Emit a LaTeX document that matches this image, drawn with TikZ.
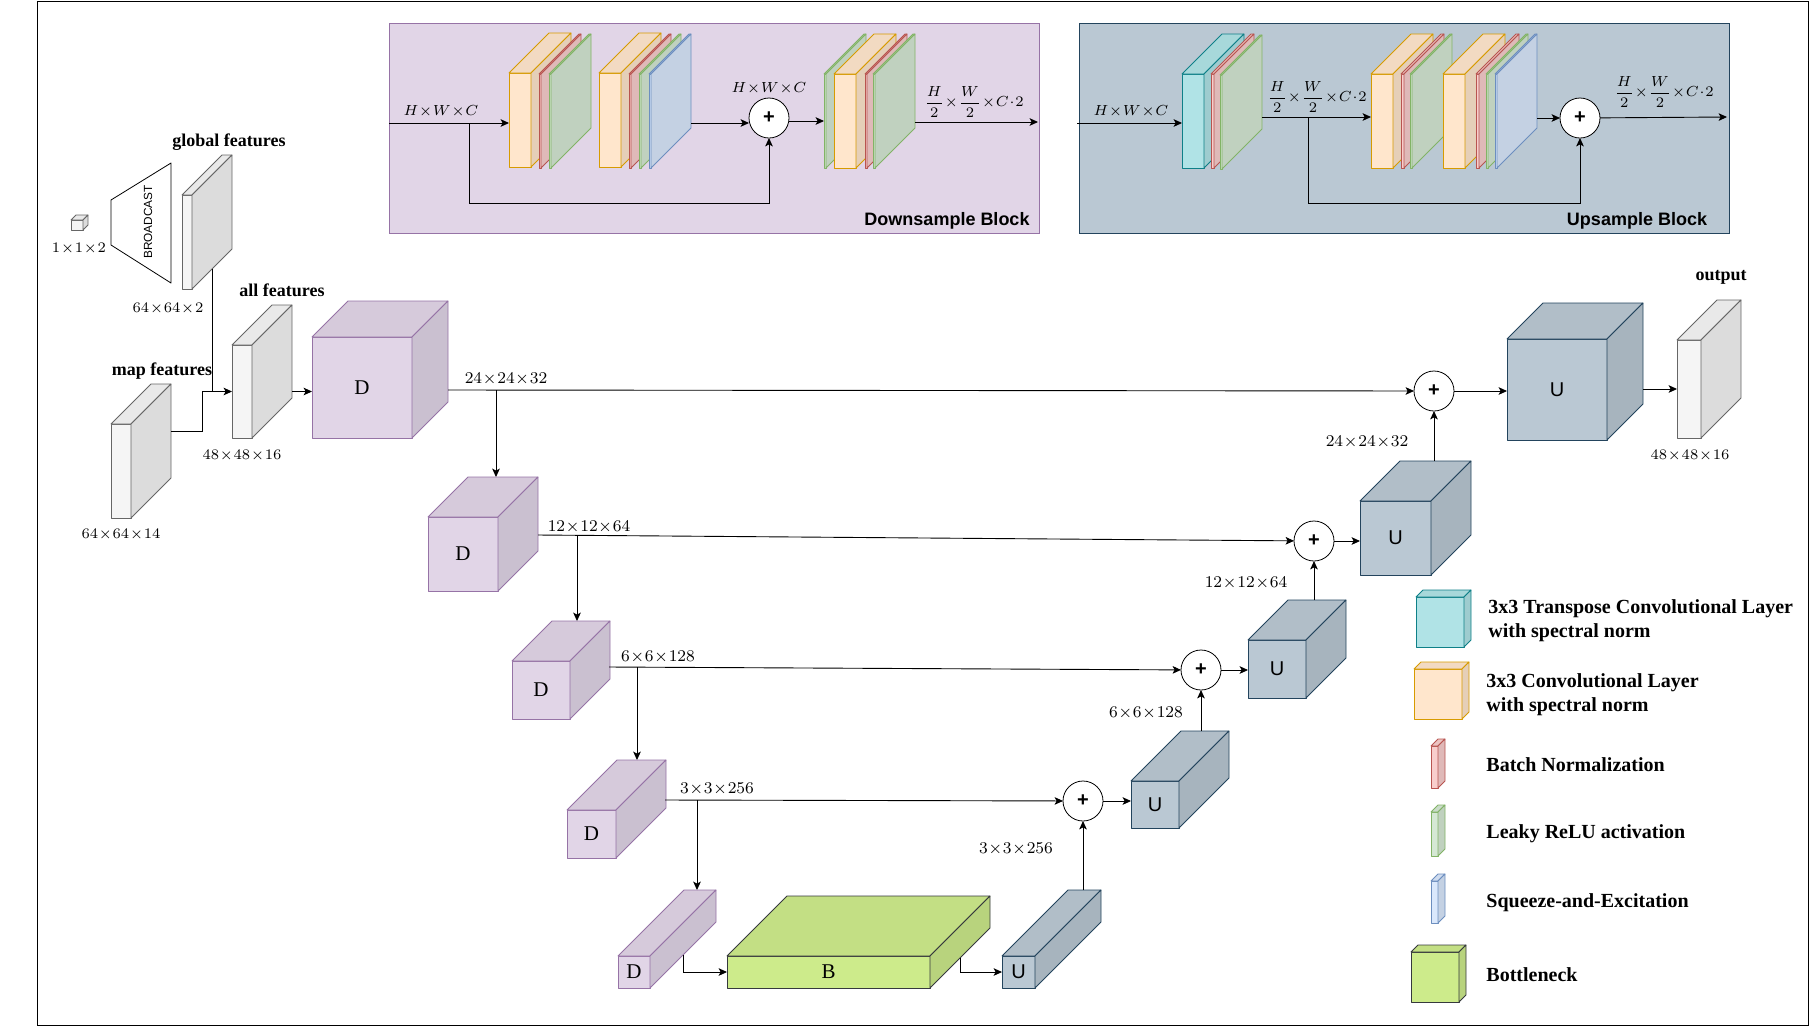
\documentclass[tikz,border=0pt]{standalone}
\usepackage{fix-cm}
\usepackage{amsmath,amssymb}
\usepackage{fontspec}
\setmainfont{Liberation Serif}
\setsansfont{Liberation Sans}
\usetikzlibrary{positioning,arrows.meta,calc}

\definecolor{ingray}{HTML}{F5F5F5}   \definecolor{ingrayline}{HTML}{666666}
\definecolor{dlilac}{HTML}{E1D5E7}   \definecolor{dlilacline}{HTML}{9673A6}
\definecolor{uslate}{HTML}{BAC8D3}   \definecolor{uslateline}{HTML}{23445D}
\definecolor{bneck}{HTML}{CDEB8B}    \definecolor{bneckline}{HTML}{36393D}
\definecolor{tconv}{HTML}{B0E3E6}    \definecolor{tconvline}{HTML}{0E8088}
\definecolor{conv}{HTML}{FFE6CC}     \definecolor{convline}{HTML}{D79B00}
\definecolor{bnorm}{HTML}{F8CECC}    \definecolor{bnormline}{HTML}{B85450}
\definecolor{lrelu}{HTML}{D5E8D4}    \definecolor{lreluline}{HTML}{82B366}
\definecolor{sqex}{HTML}{DAE8FC}     \definecolor{sqexline}{HTML}{6C8EBF}

\newcommand{\serifmark}[1]{{\fontsize{10.5}{12}\selectfont #1}}
\newcommand{\sansmark}[1]{{\sffamily\fontsize{10}{12}\selectfont #1}}
\newcommand{\dimsfont}{\fontsize{7.3}{9}\selectfont\medmuskip=0.8mu\relax}
\newcommand{\skipfont}{\fontsize{8.2}{10}\selectfont\medmuskip=0.8mu\relax}

% name, left, top, width, height, depth, colour, text
\newcommand{\cubelayer}[8]{%
  \node[cubefront=#7,minimum width=#4*0.5pt,minimum height=#5*0.5pt] (#1) at (#2,#3) {#8};
  \draw[draw=#7line,fill=#7!95!black,line join=round] (#1.north west) -- ++(#6,-#6) -- ++(#4,0) -- (#1.north east) -- cycle;
  \draw[draw=#7line,fill=#7!90!black,line join=round] (#1.north east) -- ++(#6,-#6) -- ++(0,#5) -- (#1.south east) -- cycle;
  \coordinate (#1-r) at ($(#1.east)+(#6,-#6)$);
  \coordinate (#1-t) at ($(#1.north)+(#6,-#6)$);
  \coordinate (#1-s) at ($(#1.south east)+(#6/2,-#6/2)$);
}

\begin{document}
\begin{tikzpicture}[
  x=0.5pt,y=-0.5pt,line width=0.4pt,
  cubefront/.style={rectangle,draw=#1line,fill=#1,anchor=north west,inner sep=0pt,outer sep=0pt,line join=round},
  arr/.style={-{Stealth[length=4.2pt,width=3.8pt,inset=1pt]},line width=0.45pt},
  conn/.style={line width=0.45pt},
  plusnode/.style={circle,draw,fill=white,minimum size=20pt,inner sep=0pt,outer sep=0pt,font=\sffamily\bfseries\fontsize{10}{12}\selectfont},
  dims/.style={font=\dimsfont,inner sep=0pt,yshift=-1pt},
  skipdims/.style={font=\skipfont,inner sep=0pt,yshift=-1pt},
  heading/.style={font=\bfseries\fontsize{9}{11}\selectfont,inner sep=0pt,yshift=-1pt},
  legendtext/.style={font=\bfseries\fontsize{10}{12}\selectfont,anchor=west,align=left,inner sep=0pt},
  blockbox/.style={rectangle,draw=#1line,fill=#1,anchor=north west,inner sep=0pt,outer sep=0pt},
  blocktitle/.style={font=\sffamily\bfseries\fontsize{9}{11}\selectfont,inner sep=0pt,yshift=-1pt},
]
\useasboundingbox (0,0) rectangle (1809,1035);
\node[draw,anchor=north west,minimum width=885.5pt,minimum height=512pt,inner sep=0pt,outer sep=0pt] (frame) at (37,1) {};

% Downsample block
\node[blockbox=dlilac,minimum width=325pt,minimum height=105pt] (dsblock) at (389,23) {};
\cubelayer{dsAo}{509}{73}{22}{94}{40}{conv}{}
\cubelayer{dsAr}{539}{74}{2}{94}{40}{bnorm}{}
\cubelayer{dsAg}{549}{74}{2}{94}{40}{lrelu}{}
\cubelayer{dsBo}{599}{73}{22}{94}{40}{conv}{}
\cubelayer{dsBr}{629}{74}{2}{94}{40}{bnorm}{}
\cubelayer{dsBg}{639}{74}{2}{94}{40}{lrelu}{}
\cubelayer{dsBb}{649}{74}{2}{94}{40}{sqex}{}
\cubelayer{dsCg}{824}{74}{2}{94}{40}{lrelu}{}
\cubelayer{dsCo}{834}{74}{22}{94}{40}{conv}{}
\cubelayer{dsCr}{865}{74}{2}{94}{40}{bnorm}{}
\cubelayer{dsCh}{873}{74}{2}{94}{40}{lrelu}{}
\node[plusnode] (dsplus) at (769,118) {+};
\coordinate (dsin) at (389,123);
\coordinate (dsj) at (469,123);
\coordinate (dsk) at (769,203);
\coordinate (dsout) at (1038,122);
\draw[arr] (dsin) -- (dsAo.west |- dsin);
\draw[arr] (dsj) |- (dsk) -- (dsplus);
\draw[arr] (dsBb-r |- dsin) -- (dsplus.west |- dsin);
\draw[arr] (dsCg.west -| dsplus.east) -- (dsCg.west);
\draw[arr] (dsCh-r |- dsout) -- (dsout);
\node[dims] (dsdimA) at (441,109) {$H\times W\times C$};
\node[dims] (dsdimB) at (769,86) {$H\times W\times C$};
\node[dims] (dsdimC) at (974,100) {$\dfrac{H}{2}\times\dfrac{W}{2}\times C\cdot 2$};
\node[blocktitle] (dstitle) at (947,219) {Downsample Block};

% Upsample block
\node[blockbox=uslate,minimum width=325pt,minimum height=105pt] (usblock) at (1079,23) {};
\cubelayer{usAt}{1182}{74}{22}{94}{40}{tconv}{}
\cubelayer{usAr}{1211}{74}{3}{94}{40}{bnorm}{}
\cubelayer{usAg}{1220}{75}{2}{94}{40}{lrelu}{}
\cubelayer{usBo}{1371}{74}{22}{94}{40}{conv}{}
\cubelayer{usBr}{1401}{74}{3}{94}{40}{bnorm}{}
\cubelayer{usBg}{1410}{74}{2}{94}{40}{lrelu}{}
\cubelayer{usCo}{1443}{74}{22}{94}{40}{conv}{}
\cubelayer{usCr}{1476}{74}{3}{94}{40}{bnorm}{}
\cubelayer{usCg}{1486}{74}{2}{94}{40}{lrelu}{}
\cubelayer{usCb}{1495}{74}{2}{94}{40}{sqex}{}
\node[plusnode] (usplus) at (1580,118) {+};
\coordinate (usin) at (1077,123);
\coordinate (usj) at (1308,117);
\coordinate (usk) at (1580,203);
\coordinate (usout) at (1727,117);
\draw[arr] (usin) -- (usAt.west |- usin);
\draw[arr] (usAg-r |- usj) -- (usBo.west |- usj);
\draw[arr] (usj) |- (usk) -- (usplus);
\draw[arr] (usCb-r |- usplus) -- (usplus);
\draw[arr] (usplus) -- (usout);
\node[dims] (usdimA) at (1131,109) {$H\times W\times C$};
\node[dims] (usdimB) at (1317,95) {$\dfrac{H}{2}\times\dfrac{W}{2}\times C\cdot 2$};
\node[dims] (usdimC) at (1664,90) {$\dfrac{H}{2}\times\dfrac{W}{2}\times C\cdot 2$};
\node[blocktitle] (ustitle) at (1637,219) {Upsample Block};

% Inputs
\cubelayer{small}{71}{220}{12}{10}{5}{ingray}{}
\cubelayer{globalf}{182}{195}{10}{94}{40}{ingray}{}
\cubelayer{mapf}{111}{424}{20}{94}{40}{ingray}{}
\cubelayer{allf}{232}{345}{20}{93}{40}{ingray}{}
\draw[line join=round] (111,200) -- (171,163) -- (171,283) -- (111,245) -- cycle;
\node[rotate=90,font=\sffamily\fontsize{5.9}{7}\selectfont,inner sep=0pt] (bcast) at (148,222) {BROADCAST};
\node[dims] (smalldim) at (79,247) {$1\times 1\times 2$};
\node[dims] (globaldim) at (168,307) {$64\times 64\times 2$};
\node[dims] (mapdim) at (121,533) {$64\times 64\times 14$};
\node[dims] (alldim) at (242,454) {$48\times 48\times 16$};
\node[heading] (globaltxt) at (229,140) {global features};
\node[heading] (maptxt) at (162,369) {map features};
\node[heading] (alltxt) at (282,288) {all features};

% Encoder
\cubelayer{D1}{312}{337}{100}{101}{36}{dlilac}{\serifmark{D}}
\cubelayer{D2}{428}{517}{70}{74}{40}{dlilac}{\serifmark{D}}
\cubelayer{D3}{512}{661}{58}{58}{40}{dlilac}{\serifmark{D}}
\cubelayer{D4}{567}{810}{49}{48}{50}{dlilac}{\serifmark{D}}
\cubelayer{D5}{618}{956}{32}{32}{66}{dlilac}{\serifmark{D}}

% Bottleneck
\cubelayer{B}{727}{956}{203}{32}{60}{bneck}{\serifmark{B}}

% Decoder
\cubelayer{U5}{1002}{956}{33}{32}{66}{uslate}{\sansmark{U}}
\cubelayer{U4}{1131}{781}{48}{47}{50}{uslate}{\sansmark{U}}
\cubelayer{U3}{1248}{640}{58}{58}{40}{uslate}{\sansmark{U}}
\cubelayer{U2}{1360}{501}{71}{74}{40}{uslate}{\sansmark{U}}
\cubelayer{U1}{1507}{339}{100}{101}{36}{uslate}{\sansmark{U}}
\cubelayer{outf}{1677}{340}{24}{98}{40}{ingray}{}

% Skip sums
\node[plusnode] (plus1) at (1434,391) {+};
\node[plusnode] (plus2) at (1314,541) {+};
\node[plusnode] (plus3) at (1201,670) {+};
\node[plusnode] (plus4) at (1083,801) {+};

% Arrows on the left
\coordinate (mapj) at (202,391.5);
\draw[conn] (globalf-s) -- (globalf-s |- allf.west);
\draw[arr] (mapf-r) -| (mapj) -- (allf.west);
\draw[arr] (allf-r |- allf.west) -- (D1.west |- allf.west);

% Skip connections
\coordinate (skip1) at (448,390);
\coordinate (skip2) at (538,535);
\coordinate (skip3) at (609,667);
\coordinate (skip4) at (665,800);
\draw[arr] (skip1) -- (plus1);
\draw[arr] (skip2) -- (plus2);
\draw[arr] (skip3) -- (plus3);
\draw[arr] (skip4) -- (plus4);

% Down path
\coordinate (down1) at (496,390);
\coordinate (down2) at (577,535);
\coordinate (down3) at (637,667);
\coordinate (down4) at (697,800);
\draw[arr] (down1) -- (down1 |- D2-t);
\draw[arr] (down2) -- (down2 |- D3-t);
\draw[arr] (down3) -- (down3 |- D4-t);
\draw[arr] (down4) -- (down4 |- D5-t);
\draw[arr] (D5-s) |- (B.west);
\draw[arr] (B-s) |- (U5.west);

% Up path
\draw[arr] (plus4 |- U5-t) -- (plus4);
\draw[arr] (plus3 |- U4-t) -- (plus3);
\draw[arr] (plus2 |- U3-t) -- (plus2);
\draw[arr] (plus1 |- U2-t) -- (plus1);
\draw[arr] (plus4) -- (U4.west |- plus4);
\draw[arr] (plus3) -- (U3.west |- plus3);
\draw[arr] (plus2) -- (U2.west |- plus2);
\draw[arr] (plus1) -- (U1.west |- plus1);
\draw[arr] (U1-r |- outf.west) -- (outf.west);

% Size labels
\node[skipdims] (skipdim1) at (506,377) {$24\times 24\times 32$};
\node[skipdims] (skipdim2) at (589,525) {$12\times 12\times 64$};
\node[skipdims] (skipdim3) at (658,655) {$6\times 6\times 128$};
\node[skipdims] (skipdim4) at (717,787) {$3\times 3\times 256$};
\node[skipdims] (updim4) at (1016,847) {$3\times 3\times 256$};
\node[skipdims] (updim3) at (1146,711) {$6\times 6\times 128$};
\node[skipdims] (updim2) at (1246,581) {$12\times 12\times 64$};
\node[skipdims] (updim1) at (1367,440) {$24\times 24\times 32$};
\node[dims] (outdim) at (1690,454) {$48\times 48\times 16$};
\node[heading] (outtxt) at (1721,275) {output};

% Legend
\cubelayer{lgT}{1416}{597}{48}{50}{7}{tconv}{}
\cubelayer{lgC}{1414}{669}{48}{50}{7}{conv}{}
\cubelayer{lgN}{1431}{746}{7}{42}{7}{bnorm}{}
\cubelayer{lgL}{1431}{812}{7}{44}{7}{lrelu}{}
\cubelayer{lgS}{1431}{881}{7}{42}{7}{sqex}{}
\cubelayer{lgB}{1411}{952}{48}{50}{7}{bneck}{}
\node[legendtext] (lgTtxt) at (1488,621) {3x3 Transpose Convolutional Layer\\with spectral norm};
\node[legendtext] (lgCtxt) at (1486,695) {3x3 Convolutional Layer\\with spectral norm};
\node[legendtext] (lgNtxt) at (1486,765) {Batch Normalization};
\node[legendtext] (lgLtxt) at (1486,834) {Leaky ReLU activation};
\node[legendtext] (lgStxt) at (1486,903) {Squeeze-and-Excitation};
\node[legendtext] (lgBtxt) at (1486,975) {Bottleneck};
\end{tikzpicture}
\end{document}
